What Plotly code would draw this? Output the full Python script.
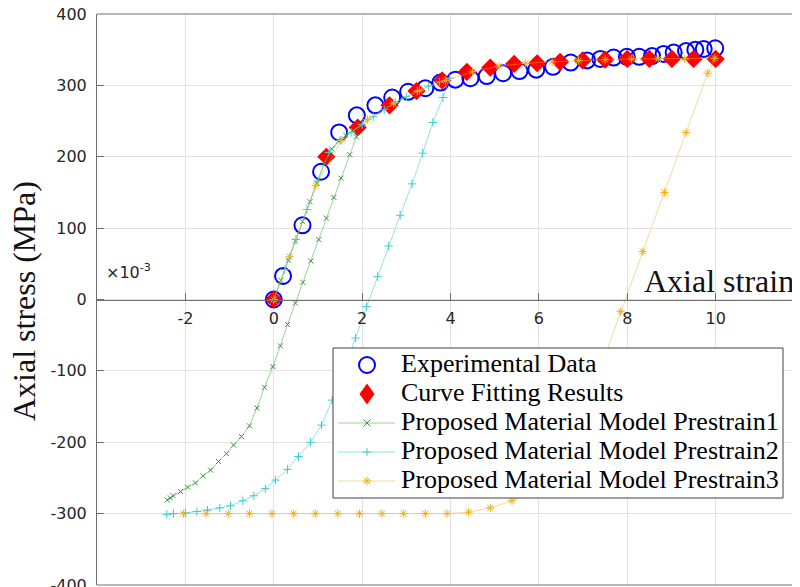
import plotly.graph_objects as go

# ---------------- data (strain in units of 1e-3, stress in MPa) ----------------
exp_strain = [0, 0.21, 0.65, 1.07, 1.48, 1.88, 2.30, 2.68, 3.04, 3.43, 3.77, 4.11, 4.45, 4.82,
              5.19, 5.56, 5.94, 6.32, 6.72, 7.09, 7.39, 7.69, 7.99, 8.27, 8.56, 8.82, 9.05,
              9.33, 9.54, 9.73, 9.99]
exp_stress = [0, 33, 104, 179, 234, 258, 272, 283, 291, 296, 304, 308, 310, 313,
              317, 320, 322, 326, 332, 335, 337, 339, 340, 340, 341, 344, 346,
              348, 350, 351, 352]

fit_strain = [0, 1.19, 1.90, 2.62, 3.23, 3.81, 4.37, 4.90, 5.44, 5.96, 6.48, 6.99, 7.50,
              8.00, 8.50, 9.01, 9.50, 10.0]
fit_stress = [0, 200, 241, 272, 292, 307, 319, 325, 330, 331, 333, 335, 336,
              337, 337, 337, 337, 337]

p1_strain = [0, 0.16, 0.33, 0.49, 0.65, 0.82, 0.98, 1.14, 1.31, 1.47, 1.63, 1.80, 1.96,
             1.87, 1.72, 1.52, 1.36, 1.19, 1.02, 0.84, 0.66, 0.49, 0.31, 0.15, -0.02,
             -0.21, -0.38, -0.55, -0.73, -0.91, -1.07, -1.25, -1.43, -1.60, -1.77, -1.95,
             -2.11, -2.28, -2.34, -2.41]
p1_stress = [0, 27, 55, 82, 109, 137, 163, 191, 211, 222, 230, 237, 244,
             228, 203, 170, 143, 114, 84, 54, 24, -5, -35, -65, -94,
             -123, -152, -177, -192, -204, -216, -227, -239, -247, -257, -263,
             -269, -275, -278, -281]

p2_strain = [0, 0.25, 0.5, 0.75, 1.0, 1.25, 1.5, 1.75, 2.0, 2.25, 2.5, 2.75, 3.0, 3.25,
             3.5, 3.75, 3.98,
             3.83, 3.60, 3.37, 3.13, 2.86, 2.60, 2.35, 2.10, 1.85, 1.60, 1.32, 1.08, 0.83,
             0.56, 0.31, 0.04, -0.19, -0.45, -0.70, -0.98, -1.22, -1.50, -1.74, -2.00,
             -2.27, -2.42]
p2_stress = [0, 42, 84, 126, 166, 206, 223, 234, 245, 256, 266, 276, 284, 292,
             299, 305, 310,
             283, 248, 205, 162, 118, 75, 32, -10, -54, -97, -141, -176, -200,
             -220, -238, -253, -265, -275, -282, -289, -292, -295, -297, -299,
             -300, -301]

p3_strain = [0, 0.36, 0.95, 1.54, 2.12, 2.71, 3.30, 3.88, 4.50, 5.10, 5.70, 6.30, 6.90,
             7.50, 8.10, 8.70, 9.30, 9.98,
             9.82, 9.33, 8.84, 8.35, 7.85, 7.36, 6.87, 6.38, 5.88, 5.39, 4.90, 4.41, 3.92,
             3.43, 2.94, 2.45, 1.94, 1.45, 0.94, 0.45, -0.04, -0.55, -1.03, -1.53, -2.04]
p3_stress = [0, 60, 160, 223, 252, 275, 293, 307, 319, 327, 331, 333, 335,
             336, 337, 337, 337, 338,
             317, 234, 150, 67, -17, -101, -185, -245, -271, -282, -292, -298, -300,
             -300, -300, -300, -300, -300, -300, -300, -300, -300, -300, -300, -300]

x_tickvals = [-2, 0, 2, 4, 6, 8, 10]
x_ticktext = ['-2', '0', '2', '4', '6', '8', '10']
y_tickvals = [-400, -300, -200, -100, 0, 100, 200, 300, 400]
y_ticktext = ['-400', '-300', '-200', '-100', '0', '100', '200', '300', '400']

legend_labels = ['Experimental Data', 'Curve Fitting Results',
                 'Proposed Material Model Prestrain1',
                 'Proposed Material Model Prestrain2',
                 'Proposed Material Model Prestrain3']

# ---------------- layout geometry ----------------
W, H = 800, 587
OFF = 8                      # page offset of the figure inside the browser window
L, R, T, B = 89, 4, 6, 10
PW, PH = W - L - R, H - T - B
PX_PER_UNIT = 44.19


def fx(px):
    """screen pixel x -> paper fraction"""
    return (px - (L + OFF)) / PW


def fy(py):
    """screen pixel y -> paper fraction"""
    return ((H - B + OFF) - py) / PH


BLUE = '#0000FF'
RED = '#FF0000'
GREEN_M = 'rgb(55,150,55)'
GREEN_L = 'rgba(55,150,55,0.6)'
CYAN_M = 'rgb(60,205,210)'
CYAN_L = 'rgba(60,205,210,0.7)'
ORANGE_M = 'rgb(237,177,32)'
ORANGE_L = 'rgba(237,177,32,0.6)'
AXC = '#6e6e6e'
GRID = '#e2e2e2'
SERIF = 'Liberation Serif'
SANS = 'DejaVu Sans'

fig = go.Figure()
fig.add_trace(go.Scatter(x=exp_strain, y=exp_stress, mode='markers', name=legend_labels[0],
                         marker=dict(symbol='circle-open', size=16, color=BLUE,
                                     line=dict(width=2, color=BLUE))))
fig.add_trace(go.Scatter(x=fit_strain, y=fit_stress, mode='markers', name=legend_labels[1],
                         marker=dict(symbol='diamond', size=14, color=RED,
                                     line=dict(width=0))))
fig.add_trace(go.Scatter(x=p1_strain, y=p1_stress, mode='lines+markers', name=legend_labels[2],
                         line=dict(color=GREEN_L, width=0.8),
                         marker=dict(symbol='x-thin', size=5, color=GREEN_M,
                                     line=dict(width=1, color=GREEN_M))))
fig.add_trace(go.Scatter(x=p2_strain, y=p2_stress, mode='lines+markers', name=legend_labels[3],
                         line=dict(color=CYAN_L, width=0.8),
                         marker=dict(symbol='cross-thin', size=6, color=CYAN_M,
                                     line=dict(width=1, color=CYAN_M))))
fig.add_trace(go.Scatter(x=p3_strain, y=p3_stress, mode='lines+markers', name=legend_labels[4],
                         line=dict(color=ORANGE_L, width=0.8),
                         marker=dict(symbol='asterisk', size=7, color=ORANGE_M,
                                     line=dict(width=1, color=ORANGE_M))))

fig.update_layout(
    width=W, height=H, showlegend=False,
    margin=dict(l=L, r=R, t=T, b=B, autoexpand=False),
    paper_bgcolor='white', plot_bgcolor='white',
    xaxis=dict(range=[-4, -4 + PW / PX_PER_UNIT], anchor='free', position=0.5,
               tickvals=x_tickvals, ticktext=x_ticktext,
               ticks='inside', ticklen=7, tickcolor=AXC, tickwidth=1,
               showline=True, linecolor=AXC, linewidth=1,
               showgrid=True, gridcolor=GRID, gridwidth=1, zeroline=False,
               tickfont=dict(family=SANS, size=16, color='#262626'),
               ticklabelstandoff=4, ticklabeloverflow='allow'),
    yaxis=dict(range=[-400, 400], tickvals=y_tickvals, ticktext=y_ticktext,
               ticks='inside', ticklen=7, tickcolor=AXC, tickwidth=1,
               showline=True, linecolor=AXC, linewidth=1, mirror='ticks',
               showgrid=True, gridcolor=GRID, gridwidth=1, zeroline=False,
               tickfont=dict(family=SANS, size=16, color='#262626'),
               ticklabelstandoff=6, ticklabeloverflow='allow'),
)

shapes = []
# box top & bottom
shapes.append(dict(type='line', xref='paper', yref='paper', x0=0, x1=1, y0=1, y1=1,
                   line=dict(color=AXC, width=1)))
shapes.append(dict(type='line', xref='paper', yref='paper', x0=0, x1=1, y0=0, y1=0,
                   line=dict(color=AXC, width=1)))

# manual legend
shapes.append(dict(type='rect', xref='paper', yref='paper', layer='above',
                   x0=fx(333), x1=fx(783), y0=fy(498), y1=fy(348),
                   fillcolor='white', line=dict(color='#404040', width=1)))
sx = 367
rows = [365, 394, 423, 452, 481]


def path(segs, close=False):
    s = ''
    for seg in segs:
        s += 'M' + ' L'.join('%.5f,%.5f' % (fx(a), fy(b)) for a, b in seg)
        if close:
            s += ' Z'
        s += ' '
    return s.strip()


shapes.append(dict(type='circle', xref='paper', yref='paper', layer='above',
                   x0=fx(sx - 8), x1=fx(sx + 8), y0=fy(rows[0] + 8), y1=fy(rows[0] - 8),
                   line=dict(color=BLUE, width=2)))
yd = rows[1]
shapes.append(dict(type='path', xref='paper', yref='paper', layer='above',
                   path=path([[(sx, yd - 10.5), (sx + 7.5, yd), (sx, yd + 10.5), (sx - 7.5, yd)]], True),
                   fillcolor=RED, line=dict(width=0)))
for yy, lc, mc, kind in [(rows[2], GREEN_L, GREEN_M, 'x'), (rows[3], CYAN_L, CYAN_M, '+'),
                         (rows[4], ORANGE_L, ORANGE_M, '*')]:
    shapes.append(dict(type='line', xref='paper', yref='paper', layer='above',
                       x0=fx(338), x1=fx(395), y0=fy(yy), y1=fy(yy), line=dict(color=lc, width=0.8)))
    a = 3.5
    if kind == 'x':
        segs = [[(sx - a, yy - a), (sx + a, yy + a)], [(sx - a, yy + a), (sx + a, yy - a)]]
    elif kind == '+':
        a = 4.2
        segs = [[(sx - a, yy), (sx + a, yy)], [(sx, yy - a), (sx, yy + a)]]
    else:
        a = 4.2
        b = 3.0
        segs = [[(sx - a, yy), (sx + a, yy)], [(sx, yy - a), (sx, yy + a)],
                [(sx - b, yy - b), (sx + b, yy + b)], [(sx - b, yy + b), (sx + b, yy - b)]]
    shapes.append(dict(type='path', xref='paper', yref='paper', layer='above',
                       path=path(segs), line=dict(color=mc, width=1)))
fig.update_layout(shapes=shapes)

ann = []
for lab, yy in zip(legend_labels, rows):
    ann.append(dict(text=lab, xref='paper', yref='paper', x=fx(399), y=fy(yy - 1.5),
                    xanchor='left', yanchor='middle', showarrow=False,
                    font=dict(family=SERIF, size=26, color='black')))
ann.append(dict(text='Axial stress (MPa)', xref='paper', yref='paper', x=fx(24), y=fy(301),
                xanchor='center', yanchor='middle', textangle=-90, showarrow=False,
                font=dict(family=SERIF, size=32, color='#111111')))
ann.append(dict(text='Axial strain', xref='paper', yref='paper', x=fx(796), y=fy(281),
                xanchor='right', yanchor='middle', showarrow=False,
                font=dict(family=SERIF, size=32, color='#111111')))
ann.append(dict(text='×10<sup>-3</sup>', xref='paper', yref='paper', x=fx(104), y=fy(284),
                xanchor='left', yanchor='bottom', showarrow=False,
                font=dict(family=SANS, size=16, color='#262626')))
fig.update_layout(annotations=ann)

fig.write_html('out.html')
